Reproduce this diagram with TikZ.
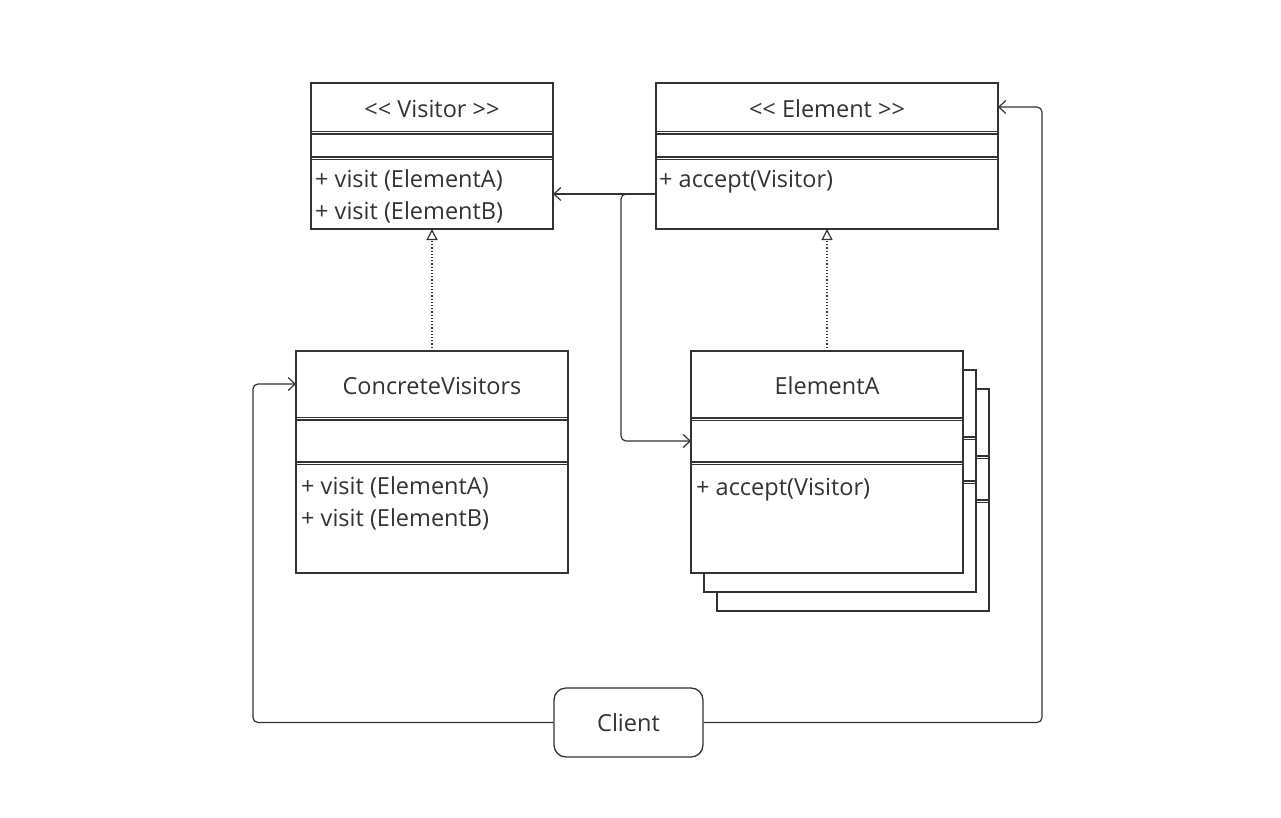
\documentclass[tikz,border=0pt]{standalone}
\usepackage{fontspec}
\setmainfont{Open Sans}
\usetikzlibrary{arrows.meta}
\definecolor{ink}{HTML}{333333}
\tikzset{
  umlbox/.style={draw=ink, line width=1.4pt, fill=white, inner sep=0pt, outer sep=0pt},
  sep/.style={draw=ink, line width=1.5pt},
  lbl/.style={text=ink, font=\fontsize{23.5}{28}\selectfont, inner sep=0pt},
  link/.style={draw=ink, line width=1.2pt, rounded corners=5pt, -{Straight Barb[length=7pt,width=13pt,line width=1.2pt]}},
  realize/.style={draw=ink, line width=1.2pt, dotted, -{Triangle[open,length=11pt,width=11pt,line width=1.2pt,fill=white]}}
}
\begin{document}
\begin{tikzpicture}[x=1pt,y=-1pt]
\useasboundingbox (0,0) rectangle (1281,817);

% Visitor interface
\node[umlbox, minimum width=242pt, minimum height=146pt] (visitor) at (432,156) {};
\draw[sep] (311,131.5) -- (553,131.5) (311,134) -- (553,134);
\draw[sep] (311,157) -- (553,157) (311,159.5) -- (553,159.5);
\node[lbl] (visitorT) at (432,109) {<{}< Visitor >{}>};
\node[lbl, anchor=west] (visitorA) at (315,180) {+ visit (ElementA)};
\node[lbl, anchor=west] (visitorB) at (315,212) {+ visit (ElementB)};

% Element interface
\node[umlbox, minimum width=342pt, minimum height=146pt] (element) at (827,156) {};
\draw[sep] (656,131.5) -- (998,131.5) (656,134) -- (998,134);
\draw[sep] (656,157) -- (998,157) (656,159.5) -- (998,159.5);
\node[lbl] (elementT) at (827,109) {<{}< Element >{}>};
\node[lbl, anchor=west] (elementM) at (659,181.5) {+ accept(Visitor)};

% ConcreteVisitors class
\node[umlbox, minimum width=272pt, minimum height=222pt] (cv) at (432,462) {};
\draw[sep] (296,417.5) -- (568,417.5) (296,420) -- (568,420);
\draw[sep] (296,462) -- (568,462) (296,464.5) -- (568,464.5);
\node[lbl] (cvT) at (432,386) {ConcreteVisitors};
\node[lbl, anchor=west] (cvA) at (301,487) {+ visit (ElementA)};
\node[lbl, anchor=west] (cvB) at (301,519) {+ visit (ElementB)};

% ElementA class with two stacked copies behind it
\foreach \dx/\dy/\nm in {26/38/ea3, 13/19/ea2, 0/0/ea} {
  \node[umlbox, minimum width=272pt, minimum height=222pt] (\nm) at (827+\dx,462+\dy) {};
  \draw[sep] (691+\dx,418+\dy) -- (963+\dx,418+\dy) (691+\dx,420.5+\dy) -- (963+\dx,420.5+\dy);
  \draw[sep] (691+\dx,462+\dy) -- (963+\dx,462+\dy) (691+\dx,464.5+\dy) -- (963+\dx,464.5+\dy);
}
\node[lbl] (eaT) at (827,386) {ElementA};
\node[lbl, anchor=west] (eaM) at (696,490) {+ accept(Visitor)};

% Client
\node[draw=ink, line width=1.3pt, rounded corners=12pt, minimum width=149pt, minimum height=69pt, inner sep=0pt] (client) at (628.5,722.5) {};
\node[lbl] (clientT) at (628.5,723) {Client};

% ports on the box edges
\coordinate (visitorR) at (553,194);
\coordinate (elementL) at (656,194);
\coordinate (elementR) at (998,107);
\coordinate (eaL) at (691,441);
\coordinate (cvL) at (296,384);

% realizations
\draw[realize] (cv.north) -- (visitor.south);
\draw[realize] (ea.north) -- (element.south);

% associations
\draw[link] (elementL) -- (visitorR);
\draw[link] (elementL) -- (621,194) -- (621,441) -- (eaL);
\draw[link] (client.west) -- (253,722.5) -- (253,384) -- (cvL);
\draw[link] (client.east) -- (1042,722.5) -- (1042,107) -- (elementR);
\end{tikzpicture}
\end{document}
